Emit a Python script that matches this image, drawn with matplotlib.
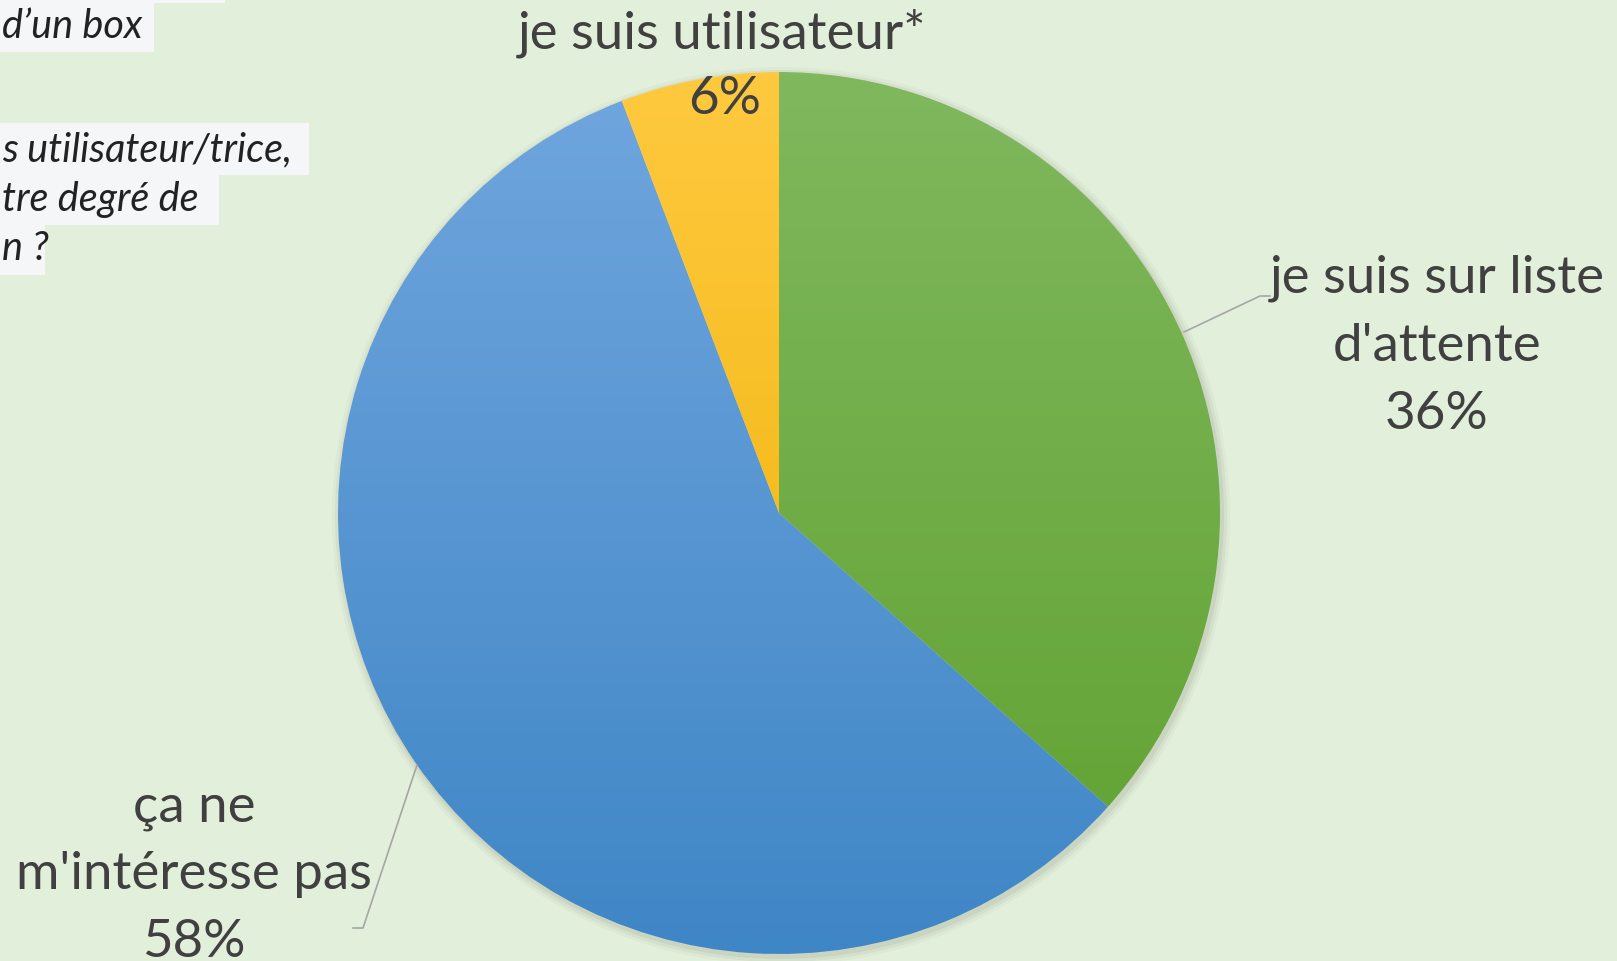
import numpy as np
import matplotlib.pyplot as plt
from matplotlib.colors import LinearSegmentedColormap

# data (shares, labels as printed)
labels = ["je suis sur liste\nd'attente", "ça ne\nm'intéresse pas", "je suis utilisateur*"]
shares = [36.6, 57.6, 5.8]
pct_labels = ["36%", "58%", "6%"]
top_colors = ["#80b85e", "#70a6de", "#ffc93f"]
bottom_colors = ["#5fa12f", "#3f86c6", "#ebb000"]

question_lines = ["d’un box", "s utilisateur/trice,", "tre degré de", "n ?"]

W, H = 1617, 961
bg = "#e2efda"
txt = "#404040"
plt.rcParams['font.family'] = ['Lato', 'DejaVu Sans']

fig = plt.figure(figsize=(W / 100, H / 100), dpi=100)
fig.patch.set_facecolor(bg)
ax = fig.add_axes([0, 0, 1, 1])

cx, cy, r = 779, H - 513, 441

# soft shadow
for k, a in zip([8, 5, 2], [0.025, 0.035, 0.05]):
    ax.add_patch(plt.Circle((cx + 2, cy - 3), r + k, color='k', alpha=a, lw=0, zorder=0))

wedges, _ = ax.pie(shares, startangle=90, counterclock=False, center=(cx, cy),
                   radius=r, frame=True)
ax.set_xlim(0, W)
ax.set_ylim(0, H)
ax.set_aspect('equal')
ax.axis('off')

# vertical gradient fill per wedge
for w, c1, c2 in zip(wedges, top_colors, bottom_colors):
    w.set_facecolor('none')
    w.set_edgecolor('none')
    cmap = LinearSegmentedColormap.from_list('g', [c2, c1])
    grad = np.linspace(0, 1, 256).reshape(-1, 1)
    im = ax.imshow(grad, cmap=cmap, extent=[cx - r, cx + r, cy - r, cy + r],
                   origin='lower', aspect='auto', zorder=1)
    im.set_clip_path(w)

# labels
fs = 38
ls = 1.55
ax.text(1437, H - 346, labels[0] + "\n" + pct_labels[0], ha='center', va='center',
        fontsize=fs, color=txt, linespacing=ls)
ax.text(194, H - 875, labels[1] + "\n" + pct_labels[1], ha='center', va='center',
        fontsize=fs, color=txt, linespacing=ls)
ax.text(722, H - 33, labels[2], ha='center', va='center', fontsize=fs, color=txt)
ax.text(725, H - 100, pct_labels[2], ha='center', va='center', fontsize=fs, color=txt,
        zorder=3)

# leader lines
ax.plot([1184, 1260, 1270], [H - 332, H - 296, H - 296], color='#a6a6a6', lw=1.2, zorder=2)
ax.plot([417, 363, 353], [H - 765, H - 928, H - 928], color='#a6a6a6', lw=1.2, zorder=2)

# clipped question text on the left
box = '#f4f6f8'
ax.add_patch(plt.Rectangle((150, H - 3), 75, 3, color=box, lw=0))
ax.add_patch(plt.Rectangle((0, H - 52), 154, 52, color=box, lw=0))
ax.add_patch(plt.Rectangle((0, H - 175), 309, 52, color=box, lw=0))
ax.add_patch(plt.Rectangle((0, H - 225), 219, 50, color=box, lw=0))
ax.add_patch(plt.Rectangle((0, H - 275), 45, 50, color=box, lw=0))
for s, y in zip(question_lines, [27, 150, 199, 249]):
    ax.text(2, H - y, s, ha='left', va='center', fontsize=28.5, style='italic',
            color='#222222')

fig.savefig("out.png", dpi=100, facecolor=bg)
